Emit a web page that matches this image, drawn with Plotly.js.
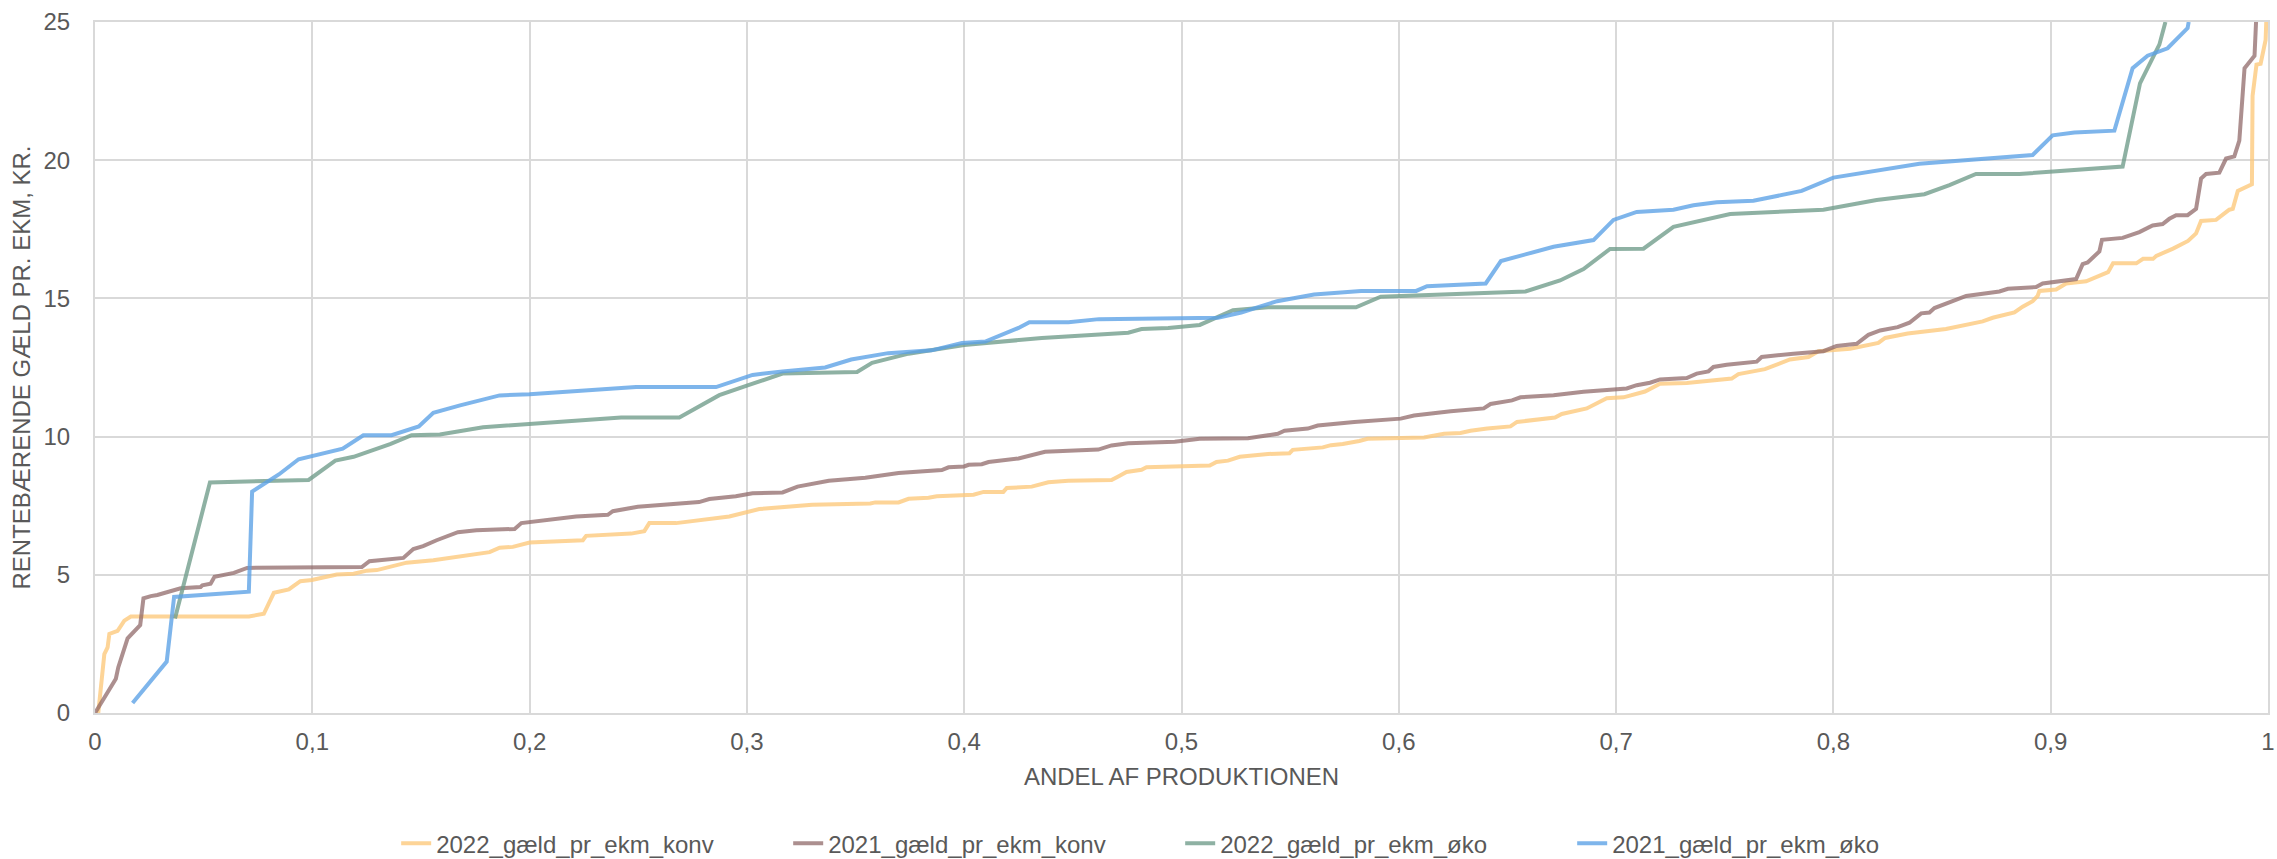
<!DOCTYPE html>
<html>
<head>
<meta charset="utf-8">
<script src="https://cdn.plot.ly/plotly-3.0.1.min.js"></script>
<style>
  html, body { margin: 0; padding: 0; background: #ffffff; }
  #chart { width: 2277px; height: 859px; }
</style>
</head>
<body>
<div id="chart"></div>
<script>
// ---- Data ----
var seriesNames = ['2022_gæld_pr_ekm_konv', '2021_gæld_pr_ekm_konv', '2022_gæld_pr_ekm_øko', '2021_gæld_pr_ekm_øko'];

var xTickVals = [0, 0.1, 0.2, 0.3, 0.4, 0.5, 0.6, 0.7, 0.8, 0.9, 1];
var xTickText = ['0', '0,1', '0,2', '0,3', '0,4', '0,5', '0,6', '0,7', '0,8', '0,9', '1'];

var konv2022X = [0.0015,0.0043,0.0058,0.0066,0.0104,0.0135,0.0165,0.0708,0.0777,0.0823,0.0892,0.0945,0.0998,0.1113,0.119,0.1251,0.1297,0.1434,0.1557,0.1679,0.1816,0.1862,0.1923,0.2,0.2107,0.2245,0.226,0.2467,0.2528,0.2551,0.2674,0.2873,0.2919,0.3057,0.3126,0.33,0.3568,0.3591,0.3698,0.3744,0.3836,0.3874,0.4043,0.4089,0.418,0.4196,0.4311,0.4387,0.4479,0.4678,0.4709,0.4747,0.4816,0.4839,0.513,0.5161,0.5214,0.5268,0.5398,0.5497,0.5512,0.5581,0.5612,0.565,0.5688,0.5742,0.5818,0.5856,0.6116,0.6208,0.6284,0.633,0.6407,0.6514,0.6544,0.6636,0.6719,0.675,0.6865,0.6957,0.7034,0.7133,0.7202,0.7325,0.7532,0.7563,0.7685,0.78,0.7885,0.7931,0.8077,0.8207,0.8238,0.8342,0.8518,0.8687,0.8733,0.8833,0.8871,0.8917,0.894,0.8948,0.9025,0.9071,0.9163,0.9264,0.9287,0.9394,0.9425,0.9471,0.9486,0.9563,0.9632,0.9669,0.9692,0.9761,0.9822,0.9838,0.9861,0.9926,0.9929,0.9947,0.9966,0.9989,0.9992];
var konv2022Y = [0,2.13,2.37,2.86,2.97,3.34,3.49,3.49,3.59,4.35,4.47,4.77,4.81,5.01,5.04,5.15,5.17,5.44,5.53,5.65,5.82,5.98,6.01,6.17,6.2,6.25,6.41,6.49,6.58,6.87,6.87,7.04,7.11,7.38,7.43,7.53,7.58,7.62,7.62,7.75,7.79,7.84,7.9,8.0,8.0,8.14,8.19,8.35,8.4,8.43,8.56,8.72,8.8,8.89,8.95,9.08,9.13,9.27,9.37,9.4,9.52,9.56,9.61,9.61,9.69,9.73,9.84,9.92,9.97,10.1,10.13,10.21,10.29,10.37,10.53,10.61,10.69,10.82,11.02,11.39,11.42,11.63,11.91,11.94,12.1,12.26,12.44,12.79,12.88,13.09,13.18,13.39,13.57,13.73,13.89,14.17,14.3,14.49,14.7,14.9,15.09,15.27,15.32,15.54,15.62,15.95,16.27,16.27,16.43,16.43,16.54,16.8,17.08,17.35,17.8,17.84,18.21,18.24,18.89,19.13,22.33,23.46,23.49,24.35,25];

var konv2021X = [0,0.0096,0.0107,0.015,0.0208,0.0223,0.0257,0.0287,0.0394,0.0486,0.0494,0.0532,0.055,0.0639,0.07,0.1228,0.1263,0.1419,0.1465,0.151,0.1572,0.167,0.1755,0.1931,0.1962,0.2214,0.236,0.2383,0.2498,0.2582,0.278,0.2827,0.2888,0.2949,0.3026,0.3164,0.3233,0.3377,0.3545,0.3698,0.3897,0.3928,0.4,0.402,0.4081,0.4112,0.425,0.4372,0.4617,0.4678,0.4755,0.4969,0.5084,0.5306,0.5398,0.5443,0.5474,0.5581,0.5627,0.5795,0.6009,0.607,0.6239,0.6391,0.6422,0.6521,0.656,0.6636,0.6712,0.685,0.6972,0.7049,0.7095,0.7156,0.7202,0.7325,0.7371,0.7425,0.7448,0.7509,0.7647,0.767,0.7816,0.7954,0.8015,0.8107,0.8161,0.8215,0.8296,0.835,0.8404,0.8442,0.8465,0.855,0.8611,0.8764,0.8803,0.8933,0.8963,0.9117,0.9147,0.917,0.9224,0.9236,0.9331,0.9408,0.9469,0.9515,0.9546,0.9577,0.963,0.9669,0.9692,0.9715,0.9776,0.9807,0.9845,0.9868,0.9892,0.9938,0.9945];
var konv2021Y = [0,1.24,1.65,2.7,3.18,4.15,4.23,4.27,4.51,4.56,4.62,4.68,4.93,5.07,5.25,5.28,5.49,5.61,5.93,6.04,6.25,6.54,6.61,6.66,6.87,7.11,7.17,7.3,7.46,7.5,7.63,7.74,7.79,7.84,7.95,7.98,8.19,8.4,8.51,8.68,8.79,8.89,8.92,8.98,9.0,9.08,9.21,9.45,9.53,9.68,9.76,9.81,9.92,9.94,10.05,10.1,10.21,10.29,10.4,10.53,10.65,10.76,10.92,11.02,11.18,11.31,11.42,11.45,11.5,11.62,11.7,11.74,11.86,11.95,12.07,12.12,12.28,12.36,12.52,12.6,12.71,12.88,13.0,13.09,13.28,13.36,13.68,13.84,13.96,14.12,14.46,14.49,14.65,14.9,15.09,15.25,15.35,15.41,15.54,15.7,16.24,16.3,16.7,17.12,17.19,17.4,17.64,17.69,17.88,18.01,18.01,18.24,19.34,19.5,19.55,20.06,20.14,20.71,23.33,23.78,25];

var oko2022X = [0.0368,0.0529,0.0983,0.1106,0.119,0.1358,0.1457,0.1587,0.1786,0.2,0.2421,0.2689,0.2873,0.301,0.3164,0.3507,0.3576,0.3744,0.4,0.4357,0.4755,0.4816,0.4939,0.5084,0.5237,0.5398,0.5803,0.5917,0.6583,0.6742,0.685,0.6972,0.7126,0.7264,0.7525,0.7954,0.8199,0.8419,0.8534,0.8656,0.8856,0.9331,0.9411,0.95,0.9528];
var oko2022Y = [3.42,8.34,8.43,9.13,9.27,9.73,10.05,10.08,10.34,10.45,10.69,10.69,11.5,11.87,12.28,12.34,12.67,13.0,13.31,13.57,13.76,13.89,13.93,14.04,14.57,14.68,14.68,15.06,15.25,15.65,16.06,16.79,16.8,17.59,18.05,18.21,18.56,18.77,19.1,19.5,19.5,19.77,22.78,24.18,25];

var oko2021X = [0.0173,0.033,0.0364,0.0708,0.0723,0.0846,0.0937,0.114,0.1235,0.1365,0.149,0.1557,0.168,0.1862,0.2,0.249,0.2858,0.3026,0.3164,0.336,0.348,0.365,0.385,0.399,0.4097,0.425,0.43,0.448,0.462,0.5168,0.5275,0.544,0.561,0.5826,0.608,0.613,0.64,0.647,0.6712,0.6896,0.6988,0.7095,0.7264,0.7356,0.7463,0.7632,0.7854,0.8,0.8396,0.8702,0.8917,0.9009,0.9109,0.9293,0.9377,0.9446,0.9538,0.963,0.9635];
var oko2021Y = [0.36,1.86,4.2,4.39,8.01,8.63,9.18,9.56,10.05,10.05,10.37,10.86,11.13,11.49,11.53,11.79,11.79,12.23,12.36,12.5,12.79,13.02,13.12,13.39,13.44,13.93,14.14,14.14,14.25,14.3,14.49,14.9,15.14,15.27,15.27,15.44,15.54,16.35,16.87,17.11,17.84,18.13,18.21,18.37,18.48,18.53,18.89,19.37,19.87,20.07,20.19,20.9,21.0,21.07,23.33,23.78,24.05,24.78,25];

var seriesColors = ['rgba(253,200,122,0.78)', 'rgba(140,100,100,0.72)', 'rgba(110,155,137,0.78)', 'rgba(90,160,230,0.78)'];

var xs = [konv2022X, konv2021X, oko2022X, oko2021X];
var ys = [konv2022Y, konv2021Y, oko2022Y, oko2021Y];

var traces = seriesNames.map(function (name, i) {
  return {
    type: 'scatter',
    mode: 'lines',
    name: name,
    x: xs[i],
    y: ys[i],
    line: { color: seriesColors[i], width: 4 },
    hoverinfo: 'x+y+name'
  };
});

var gridCol = '#D9D9D9';
var textCol = '#595959';

var layout = {
  width: 2277,
  height: 859,
  margin: { l: 95, r: 9, t: 22, b: 146, autoexpand: false },
  paper_bgcolor: '#ffffff',
  plot_bgcolor: '#ffffff',
  separators: ', ',
  font: { family: '"Liberation Sans", Arial, sans-serif', size: 24, color: textCol },
  xaxis: {
    range: [0, 1],
    tickmode: 'array',
    tickvals: xTickVals,
    ticktext: xTickText,
    showgrid: true,
    gridcolor: gridCol,
    gridwidth: 2,
    zeroline: false,
    showline: true,
    linecolor: gridCol,
    linewidth: 2,
    mirror: true,
    ticks: '',
    ticklabelstandoff: 6,
    ticklabeloverflow: 'allow',
    tickfont: { size: 24, color: textCol },
    automargin: false,
    title: { text: 'ANDEL AF PRODUKTIONEN', font: { size: 24, color: textCol }, standoff: 14 }
  },
  yaxis: {
    range: [0, 25],
    tick0: 0,
    dtick: 5,
    showgrid: true,
    gridcolor: gridCol,
    gridwidth: 2,
    zeroline: false,
    showline: true,
    linecolor: gridCol,
    linewidth: 2,
    mirror: true,
    ticks: '',
    ticklabelstandoff: 18,
    tickfont: { size: 24, color: textCol },
    automargin: false,
    title: { text: 'RENTEBÆRENDE GÆLD PR. EKM, KR.', font: { size: 24, color: textCol }, standoff: 6 }
  },
  showlegend: true,
  legend: {
    orientation: 'h',
    x: 0.1386,
    xanchor: 'left',
    y: -0.189,
    yanchor: 'middle',
    font: { size: 24, color: textCol },
    entrywidth: 347,
    entrywidthmode: 'pixels',
    bgcolor: 'rgba(0,0,0,0)'
  }
};

Plotly.newPlot('chart', traces, layout, { displayModeBar: false, staticPlot: true });
</script>
</body>
</html>
